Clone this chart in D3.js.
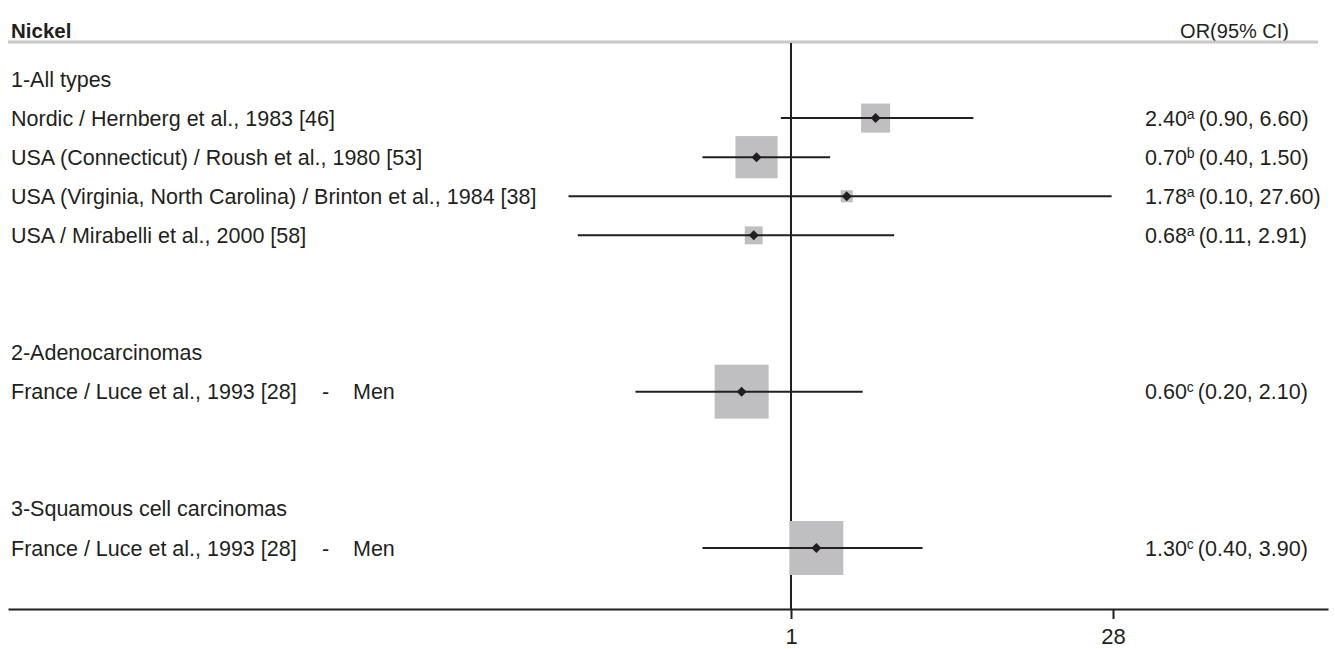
<!DOCTYPE html>
<html>
<head>
<meta charset="utf-8">
<script src="https://cdn.jsdelivr.net/npm/d3@7/dist/d3.min.js"></script>
<style>
  html, body { margin: 0; padding: 0; background: #fff; }
  svg { display: block; font-family: "Liberation Sans", Arial, Helvetica, sans-serif; }
</style>
</head>
<body>
<div id="chart"></div>
<script>
// forest plot: nickel exposure, OR with 95% CI (log scale)
var groups    = ['1-All types', '2-Adenocarcinomas', '3-Squamous cell carcinomas'];
var groupRow  = [0, 7, 11];

var studies   = ['Nordic / Hernberg et al., 1983 [46]',
                 'USA (Connecticut) / Roush et al., 1980 [53]',
                 'USA (Virginia, North Carolina) / Brinton et al., 1984 [38]',
                 'USA / Mirabelli et al., 2000 [58]',
                 'France / Luce et al., 1993 [28]',
                 'France / Luce et al., 1993 [28]'];
var studySex  = ['', '', '', '', 'Men', 'Men'];
var studyRow  = [1, 2, 3, 4, 8, 12];
var orValues  = [2.40, 0.70, 1.78, 0.68, 0.60, 1.30];
var ciLow     = [0.90, 0.40, 0.10, 0.11, 0.20, 0.40];
var ciHigh    = [6.60, 1.50, 27.60, 2.91, 2.10, 3.90];
var orLabels  = ['2.40', '0.70', '1.78', '0.68', '0.60', '1.30'];
var ciLabels  = ['(0.90, 6.60)', '(0.40, 1.50)', '(0.10, 27.60)', '(0.11, 2.91)', '(0.20, 2.10)', '(0.40, 3.90)'];
var notes     = ['a', 'b', 'a', 'a', 'c', 'c'];
var weights   = [2.9, 6.1, 0.5, 1.1, 10, 10];
var tickVals  = [1, 28];

var W = 1335, H = 649;
var ink = '#231f20';
var fs = 21.5;

var svg = d3.select('#chart').append('svg')
  .attr('width', W).attr('height', H);

var x = d3.scaleLog().domain([1, 28]).range([791, 1113]);
var y = d3.scaleLinear().domain([0, 12]).range([79, 548]);
var boxSize = d3.scaleSqrt().domain([0, 10]).range([0, 54]);

var axisLeft = 8, axisRight = 1328, axisY = 609, topY = 42;

// header
svg.append('text').attr('x', 11).attr('y', 31).attr('dy', '0.35em')
  .attr('font-size', 20.5).attr('font-weight', 'bold').attr('fill', ink).text('Nickel');
svg.append('text').attr('x', 1289).attr('y', 31).attr('dy', '0.35em')
  .attr('text-anchor', 'end').attr('font-size', 20).attr('fill', ink).text('OR(95% CI)');
svg.append('line').attr('x1', 8).attr('x2', 1318).attr('y1', topY).attr('y2', topY)
  .attr('stroke', '#c8c8c8').attr('stroke-width', 3);

// reference line at OR = 1
svg.append('line').attr('x1', x(1)).attr('x2', x(1)).attr('y1', topY + 1).attr('y2', axisY)
  .attr('stroke', ink).attr('stroke-width', 2);

// axis
var xAxisScale = d3.scaleLog()
  .domain([x.invert(axisLeft), x.invert(axisRight)])
  .range([axisLeft, axisRight]);
var ax = svg.append('g').attr('transform', 'translate(0,' + axisY + ')')
  .call(d3.axisBottom(xAxisScale).tickValues(tickVals).tickFormat(d3.format('d'))
    .tickSize(10).tickSizeOuter(0).tickPadding(9));
ax.select('.domain').attr('stroke', ink).attr('stroke-width', 2);
ax.selectAll('.tick line').attr('stroke', ink).attr('stroke-width', 2);
ax.selectAll('.tick text').attr('font-size', 22).attr('fill', ink)
  .attr('font-family', '"Liberation Sans", Arial, sans-serif');

// group headings
svg.append('g').selectAll('text').data(groups).join('text')
  .attr('x', 11).attr('y', function (d, i) { return y(groupRow[i]); }).attr('dy', '0.35em')
  .attr('font-size', fs).attr('fill', ink).text(function (d) { return d; });

var idx = d3.range(studies.length);

// study labels
var sl = svg.append('g').selectAll('text').data(idx).join('text')
  .attr('x', 11).attr('y', function (i) { return y(studyRow[i]); }).attr('dy', '0.35em')
  .attr('font-size', fs).attr('fill', ink);
sl.append('tspan').text(function (i) { return studies[i]; });
sl.filter(function (i) { return studySex[i]; }).each(function (i) {
  var t = d3.select(this);
  t.append('tspan').attr('x', 322).text('-');
  t.append('tspan').attr('x', 353).text(studySex[i]);
});

// weight boxes
svg.append('g').selectAll('rect').data(idx).join('rect')
  .attr('x', function (i) { return x(orValues[i]) - boxSize(weights[i]) / 2; })
  .attr('y', function (i) { return y(studyRow[i]) - boxSize(weights[i]) / 2; })
  .attr('width', function (i) { return boxSize(weights[i]); })
  .attr('height', function (i) { return boxSize(weights[i]); })
  .attr('fill', '#bfbfc1');

// CI lines
svg.append('g').selectAll('line').data(idx).join('line')
  .attr('x1', function (i) { return x(ciLow[i]); })
  .attr('x2', function (i) { return x(ciHigh[i]); })
  .attr('y1', function (i) { return y(studyRow[i]); })
  .attr('y2', function (i) { return y(studyRow[i]); })
  .attr('stroke', ink).attr('stroke-width', 2);

// point estimates (small diamonds)
svg.append('g').selectAll('path').data(idx).join('path')
  .attr('transform', function (i) { return 'translate(' + x(orValues[i]) + ',' + y(studyRow[i]) + ') rotate(45)'; })
  .attr('d', d3.symbol().type(d3.symbolSquare).size(50))
  .attr('fill', ink);

// OR text column
var rt = svg.append('g').selectAll('text').data(idx).join('text')
  .attr('x', 1145).attr('y', function (i) { return y(studyRow[i]); }).attr('dy', '0.35em')
  .attr('font-size', fs).attr('fill', ink);
rt.append('tspan').text(function (i) { return orLabels[i]; });
rt.append('tspan').attr('font-size', 14).attr('dy', -7).text(function (i) { return notes[i]; });
rt.append('tspan').attr('dy', 7).attr('dx', 4).text(function (i) { return ciLabels[i]; });
</script>
</body>
</html>
